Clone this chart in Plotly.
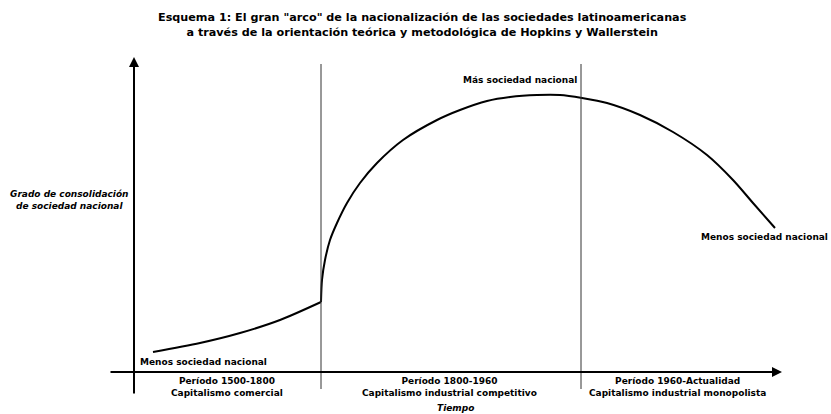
import plotly.graph_objects as go

# Conceptual units: x = time (axis origin at 0), y = grado de consolidación (x-axis at 0)
seg1_x = [1.9, 6.6, 10.6, 14.6, 18.7]
seg1_y = [2.0, 2.9, 3.9, 5.2, 7.0]

seg2_x = [18.7, 18.8, 19.1, 19.6, 20.3, 21.3, 22.6, 24.3, 26.9, 30.3, 32.6, 35.3, 37.6,
          40.3, 42.6, 44.8, 47.3, 50.6, 53.9, 57.3, 59.9, 61.9, 64.1]
seg2_y = [7.0, 9.2, 11.2, 13.2, 14.9, 16.9, 18.9, 20.9, 23.2, 25.2, 26.2, 27.1, 27.5,
          27.7, 27.7, 27.4, 26.9, 25.7, 24.0, 21.7, 19.2, 16.9, 14.4]

dividers = [18.7, 44.7]
period_labels = ["Período 1500-1800<br>Capitalismo comercial",
                 "Período 1800-1960<br>Capitalismo industrial competitivo",
                 "Período 1960-Actualidad<br>Capitalismo industrial monopolista"]
period_centers = [9.3, 31.5, 54.3]

FONT = "DejaVu Sans"

fig = go.Figure()
for xs, ys in [(seg1_x, seg1_y), (seg2_x, seg2_y)]:
    fig.add_trace(go.Scatter(x=xs, y=ys, mode="lines", line=dict(color="black", width=2, shape="spline", smoothing=0.8),
                             hoverinfo="skip", showlegend=False))

shapes = []
for d in dividers:
    shapes.append(dict(type="line", xref="x", yref="y", x0=d, x1=d, y0=-1.7, y1=30.8,
                       line=dict(color="#333333", width=1)))

annotations = []
# axes with arrow heads
annotations.append(dict(x=0, y=31.5, ax=0, ay=-2.3, xref="x", yref="y", axref="x", ayref="y",
                        text="", showarrow=True, arrowhead=2, arrowsize=1, arrowwidth=2, arrowcolor="black"))
annotations.append(dict(x=64.8, y=0, ax=-2.5, ay=0, xref="x", yref="y", axref="x", ayref="y",
                        text="", showarrow=True, arrowhead=2, arrowsize=1, arrowwidth=2, arrowcolor="black"))

def txt(x, y, s, size=9, italic=False, xanchor="center"):
    t = f"<b>{s}</b>"
    if italic:
        t = f"<i>{t}</i>"
    annotations.append(dict(x=x, y=y, xref="x", yref="y", text=t, showarrow=False,
                            xanchor=xanchor, yanchor="middle",
                            font=dict(family=FONT, size=size, color="black")))

# title
annotations.append(dict(x=0.509, y=1 - 24.5 / 414, xref="paper", yref="paper",
                        text="<b>Esquema 1: El gran \"arco\" de la nacionalización de las sociedades latinoamericanas<br>"
                             "a través de la orientación teórica y metodológica de Hopkins y Wallerstein</b>",
                        showarrow=False, xanchor="center", yanchor="middle",
                        font=dict(family=FONT, size=11.2, color="black")))

txt(-6.5, 17.25, "Grado de consolidación<br>de sociedad nacional", size=9, italic=True)
txt(6.9, 1.0, "Menos sociedad nacional")
txt(38.6, 29.2, "Más sociedad nacional")
txt(63.0, 13.5, "Menos sociedad nacional")
for c, lab in zip(period_centers, period_labels):
    txt(c, -1.5, lab)
txt(32.1, -3.6, "Tiempo", italic=True)

fig.update_layout(
    width=831, height=414,
    margin=dict(l=0, r=0, t=0, b=0),
    paper_bgcolor="white", plot_bgcolor="white",
    xaxis=dict(range=[-13.4, 69.7], visible=False, fixedrange=True),
    yaxis=dict(range=[-4.2, 37.2], visible=False, fixedrange=True),
    shapes=shapes, annotations=annotations, showlegend=False,
)

fig.write_html("out.html", config={"displayModeBar": False},
               post_script="document.body.style.margin='0';document.body.style.overflow='hidden';")
